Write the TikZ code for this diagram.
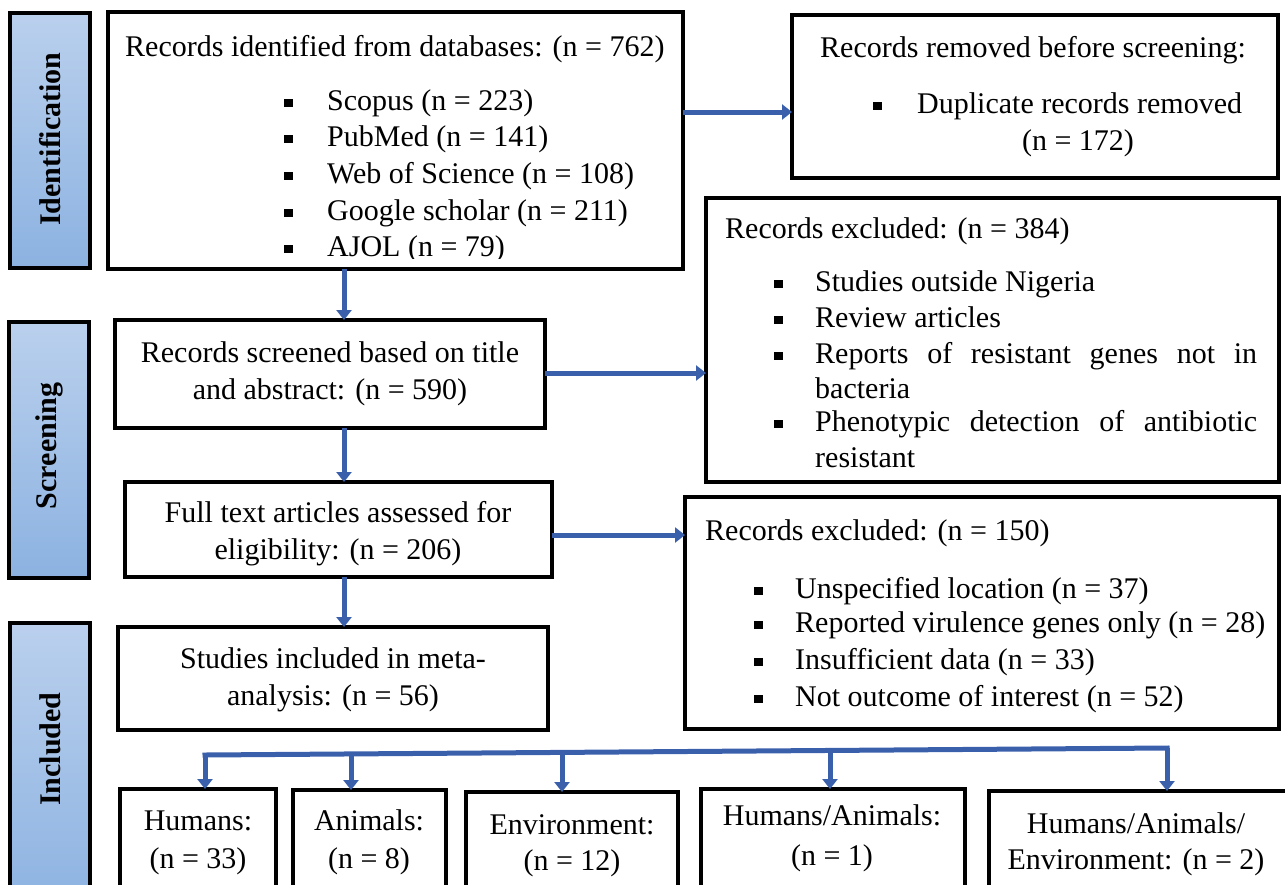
\documentclass[tikz,border=0pt]{standalone}
\usepackage{fontspec}
\setmainfont{Liberation Serif}
\usetikzlibrary{arrows.meta}
\definecolor{arrblue}{RGB}{58,96,172}
\definecolor{sidetop}{RGB}{186,208,237}
\definecolor{sidebot}{RGB}{140,178,225}
\newcommand\sqbul[1]{\makebox[#1][l]{\raisebox{3pt}{\rule{8.5pt}{8.5pt}}}}
\begin{document}
\begin{tikzpicture}[x=1pt,y=-1pt,
  box/.style={draw=black,line width=3.5pt,fill=white,inner sep=0pt,outer sep=0pt,anchor=north west},
  side/.style={draw=black,line width=4pt,top color=sidetop,bottom color=sidebot,inner sep=0pt,outer sep=0pt,anchor=north west},
  txt/.style={inner sep=0pt,font=\fontsize{30}{36}\selectfont},
  lt/.style={txt,anchor=base west},
  ct/.style={txt,anchor=base},
  sidetxt/.style={inner sep=0pt,font=\fontsize{30}{36}\selectfont\bfseries,rotate=90},
  arr/.style={draw=arrblue,line width=5pt,-{Triangle[width=15pt,length=10pt]}},
  bus/.style={draw=arrblue,line width=5pt}]
\useasboundingbox (0,0) rectangle (1285,884);

% side phase boxes
\node[side,minimum width=80pt,minimum height=255pt] (s1) at (10,13) {};
\node[side,minimum width=80pt,minimum height=256pt] (s2) at (9,322) {};
\node[side,minimum width=80pt,minimum height=290pt] (s3) at (10,623) {};
\node[sidetxt] (s1t) at (50,139) {Identification};
\node[sidetxt] (s2t) at (49,446) {Screening};
\node[sidetxt] (s3t) at (50,749) {Included};

% main boxes
\node[box,minimum width=575pt,minimum height=257pt] (b1) at (108,12) {};
\node[box,minimum width=486pt,minimum height=163pt] (b2) at (792,15) {};
\node[box,minimum width=430pt,minimum height=108pt] (b3) at (115,320) {};
\node[box,minimum width=573pt,minimum height=284pt] (b4) at (706,198) {};
\node[box,minimum width=427pt,minimum height=95pt] (b5) at (125,482) {};
\node[box,minimum width=594pt,minimum height=232pt] (b6) at (685,497) {};
\node[box,minimum width=430pt,minimum height=103pt] (b7) at (118,627) {};
\node[box,minimum width=156pt,minimum height=120pt] (h) at (120,789) {};
\node[box,minimum width=153pt,minimum height=120pt] (an) at (293,790) {};
\node[box,minimum width=212pt,minimum height=120pt] (env) at (466,792) {};
\node[box,minimum width=264pt,minimum height=120pt] (ha) at (701,789) {};
\node[box,minimum width=300pt,minimum height=120pt] (hae) at (989,791) {};

% box 1 text
\node[lt] (b1t) at (125,56) {Records identified from databases: (n = 762)};
\node[lt] (b1a) at (284,110) {\sqbul{43pt}Scopus (n = 223)};
\node[lt] (b1b) at (284,146) {\sqbul{43pt}PubMed (n = 141)};
\node[lt] (b1c) at (284,183) {\sqbul{43pt}Web of Science (n = 108)};
\node[lt] (b1d) at (284,220) {\sqbul{43pt}Google scholar (n = 211)};
\begin{scope}
\clip (108,12) rectangle (683,258);
\node[lt] (b1e) at (284,256) {\sqbul{43pt}AJOL (n = 79)};
\end{scope}

% box 2 text
\node[lt] (b2t) at (820,57) {Records removed before screening:};
\node[lt] (b2a) at (873,113) {\sqbul{44pt}Duplicate records removed};
\node[ct] (b2b) at (1078,150) {(n = 172)};

% box 3 text
\node[ct] (b3a) at (330,362) {Records screened based on title};
\node[ct] (b3b) at (330,399) {and abstract: (n = 590)};

% box 4 text
\node[lt] (b4t) at (725,238) {Records excluded: (n = 384)};
\node[lt] (b4a) at (774,291) {\sqbul{41pt}Studies outside Nigeria};
\node[lt] (b4b) at (774,327) {\sqbul{41pt}Review articles};
\node[lt] (b4c) at (774,363) {\sqbul{41pt}\makebox[442pt][s]{Reports of resistant genes not in}};
\node[lt] (b4d) at (815,398) {bacteria};
\node[lt] (b4e) at (774,431) {\sqbul{41pt}\makebox[442pt][s]{Phenotypic detection of antibiotic}};
\node[lt] (b4f) at (815,467) {resistant};

% box 5 text
\node[ct] (b5a) at (338,522) {Full text articles assessed for};
\node[ct] (b5b) at (338,559) {eligibility: (n = 206)};

% box 6 text
\node[lt] (b6t) at (705,540) {Records excluded: (n = 150)};
\node[lt] (b6a) at (754,598) {\sqbul{41pt}Unspecified location (n = 37)};
\node[lt] (b6b) at (754,632) {\sqbul{41pt}Reported virulence genes only (n = 28)};
\node[lt] (b6c) at (754,669) {\sqbul{41pt}Insufficient data (n = 33)};
\node[lt] (b6d) at (754,706) {\sqbul{41pt}Not outcome of interest (n = 52)};

% box 7 text
\node[ct] (b7a) at (333,668) {Studies included in meta-};
\node[ct] (b7b) at (333,705) {analysis: (n = 56)};

% bottom boxes text
\node[ct] (ht1) at (198,830) {Humans:};
\node[ct] (ht2) at (198,868) {(n = 33)};
\node[ct] (at1) at (369,830) {Animals:};
\node[ct] (at2) at (369,868) {(n = 8)};
\node[ct] (et1) at (572,834) {Environment:};
\node[ct] (et2) at (572,870) {(n = 12)};
\node[ct] (hat1) at (832,825) {Humans/Animals:};
\node[ct] (hat2) at (832,865) {(n = 1)};
\node[ct] (haet1) at (1136,833) {Humans/Animals/};
\node[ct] (haet2) at (1136,869) {Environment: (n = 2)};

% connectors
\coordinate (y1) at (0,112);
\coordinate (y3) at (0,373);
\coordinate (y5) at (0,535);
\coordinate (xv) at (344,0);
\draw[arr] (b1.east |- y1) -- (b2.west |- y1);
\draw[arr] (b1.south -| xv) -- (b3.north -| xv);
\draw[arr] (b3.east |- y3) -- (b4.west |- y3);
\draw[arr] (b3.south -| xv) -- (b5.north -| xv);
\draw[arr] (b5.east |- y5) -- (b6.west |- y5);
\draw[arr] (b5.south -| xv) -- (b7.north -| xv);

\coordinate (d1) at (205,755);
\coordinate (d2) at (351,754);
\coordinate (d3) at (562,752.4);
\coordinate (d4) at (830,750.5);
\coordinate (d5) at (1167,748);
\draw[bus,line cap=rect] (d1) -- (d5);
\draw[arr] (d1) -- (d1 |- h.north);
\draw[arr] (d2) -- (d2 |- an.north);
\draw[arr] (d3) -- (d3 |- env.north);
\draw[arr] (d4) -- (d4 |- ha.north);
\draw[arr] (d5) -- (d5 |- hae.north);
\end{tikzpicture}
\end{document}
